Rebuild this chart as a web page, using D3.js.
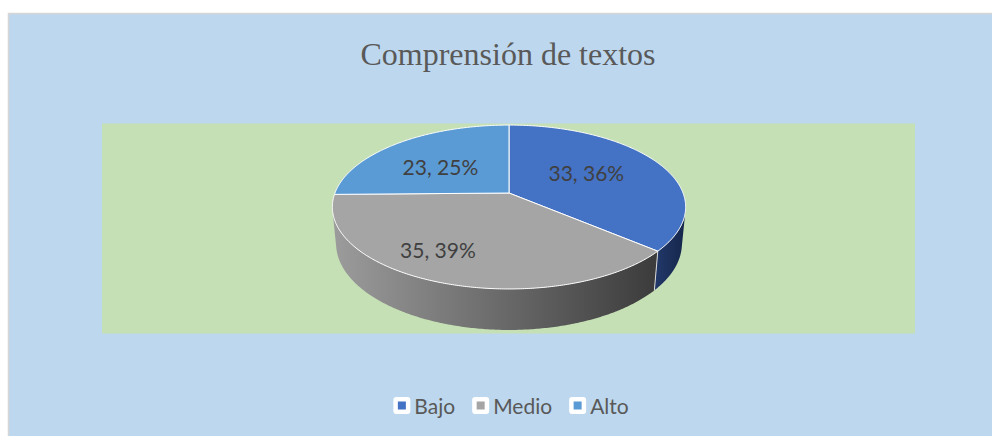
<!DOCTYPE html>
<html>
<head>
<meta charset="utf-8">
<script src="https://cdn.jsdelivr.net/npm/d3@7"></script>
<style>
  body { margin: 0; background: #fff; }
  svg { display: block; }
</style>
</head>
<body>
<div id="chart"></div>
<script>
const title = "Comprensión de textos";
const categories = ["Bajo", "Medio", "Alto"];
const values = [33, 35, 23];
const topColors = ["#4472C4", "#A5A5A5", "#5B9BD5"];
const sideColors = [["#22396a", "#15264a"], ["#9c9c9c", "#3b3b3b"], ["#6e9fd0", "#3f6f9f"]];

const width = 992, height = 436;

const svg = d3.select("#chart").append("svg")
  .attr("width", width)
  .attr("height", height);

// chart area + plot area
svg.append("rect")
  .attr("x", 8.5).attr("y", 13.5)
  .attr("width", width).attr("height", height)
  .attr("fill", "#BDD7EE")
  .attr("stroke", "#d6d6d6")
  .attr("stroke-width", 1.5);

svg.append("rect")
  .attr("x", 102).attr("y", 123.5)
  .attr("width", 813).attr("height", 210)
  .attr("fill", "#C5E0B4");

svg.append("text")
  .attr("x", 508).attr("y", 65)
  .attr("text-anchor", "middle")
  .attr("font-family", "Liberation Serif, Times New Roman, serif")
  .attr("font-size", 32)
  .attr("fill", "#595959")
  .text(title);

// 3d pie: a disk seen by a perspective camera tilted down
const cx = 509, cy = 193;
const tilt = 27.2 * Math.PI / 180;
const sinA = Math.sin(tilt), cosA = Math.cos(tilt);
const dist = 5.2, focal = 905, thick = 0.238;

const proj = (x, z, h = 0) => {
  const down = z * sinA + h * cosA;
  const depth = dist - z * cosA + h * sinA;
  return [cx + focal * x / depth, cy + focal * down / depth];
};
// angle measured clockwise from 12 o'clock, like d3.pie
const rim = (a, r = 1, h = 0) => proj(r * Math.sin(a), -r * Math.cos(a), h);

const pie = d3.pie().sort(null).value(d => d);
const arcs = pie(values);
const color = d3.scaleOrdinal().domain(categories).range(topColors);
const line = d3.line();

const sampleArc = (a0, a1, h) => {
  const n = Math.max(2, Math.ceil((a1 - a0) / 0.01));
  return d3.range(n + 1).map(i => rim(a0 + (a1 - a0) * i / n, 1, h));
};

// visible part of the side wall
const zc = 1 / (dist * cosA);
const vis0 = Math.acos(-zc), vis1 = 2 * Math.PI - vis0;

const defs = svg.append("defs");
const pieG = svg.append("g");

arcs.forEach((d, i) => {
  const a0 = Math.max(d.startAngle, vis0), a1 = Math.min(d.endAngle, vis1);
  if (a1 <= a0) return;
  const poly = sampleArc(a0, a1, 0).concat(sampleArc(a0, a1, thick).reverse());
  const xs = d3.extent(poly, p => p[0]);
  const gid = "side" + i;
  const grad = defs.append("linearGradient")
    .attr("id", gid)
    .attr("gradientUnits", "userSpaceOnUse")
    .attr("x1", xs[0]).attr("x2", xs[1])
    .attr("y1", 0).attr("y2", 0);
  grad.append("stop").attr("offset", 0).attr("stop-color", sideColors[i][0]);
  grad.append("stop").attr("offset", 1).attr("stop-color", sideColors[i][1]);
  pieG.append("path")
    .attr("d", line(poly) + "Z")
    .attr("fill", `url(#${gid})`);
});

// light seams on the wall where slices meet
arcs.forEach(d => {
  const a = d.startAngle;
  if (a > vis0 && a < vis1) {
    pieG.append("path")
      .attr("d", line([rim(a, 1, 0), rim(a, 1, thick)]))
      .attr("stroke", "#d9d9d9")
      .attr("stroke-width", 1);
  }
});

arcs.forEach((d, i) => {
  const poly = [proj(0, 0)].concat(sampleArc(d.startAngle, d.endAngle, 0));
  pieG.append("path")
    .attr("d", line(poly) + "Z")
    .attr("fill", color(categories[i]))
    .attr("stroke", "#ffffff")
    .attr("stroke-width", 1)
    .attr("stroke-linejoin", "round");
});

// percentages rounded so they add up to 100 (largest remainder), like Excel
const total = d3.sum(values);
const raw = values.map(v => v / total * 100);
const pct = raw.map(Math.floor);
let left = 100 - d3.sum(pct);
d3.range(raw.length)
  .sort((a, b) => (raw[b] - pct[b]) - (raw[a] - pct[a]))
  .forEach(k => { if (left > 0) { pct[k]++; left--; } });

// labels sit at the middle of each slice; Excel's best-fit pushes them a little
const labelNudge = [[1, -4], [-39, 16], [-10, 0]];
arcs.forEach((d, i) => {
  const p = rim((d.startAngle + d.endAngle) / 2, 0.5);
  pieG.append("text")
    .attr("x", p[0] + labelNudge[i][0]).attr("y", p[1] + labelNudge[i][1])
    .attr("text-anchor", "middle")
    .attr("dominant-baseline", "central")
    .attr("font-family", "Lato, Calibri, sans-serif")
    .attr("font-size", 21)
    .attr("fill", "#404040")
    .text(`${d.data}, ${pct[i]}%`);
});

// legend
const legend = svg.append("g");
let lx = 0;
categories.forEach((c, i) => {
  const item = legend.append("g").attr("transform", `translate(${lx},0)`);
  item.append("rect")
    .attr("x", 0).attr("y", -8.5)
    .attr("width", 17).attr("height", 17)
    .attr("rx", 3)
    .attr("fill", "#ffffff");
  item.append("rect")
    .attr("x", 4.5).attr("y", -4)
    .attr("width", 8).attr("height", 8)
    .attr("fill", color(c));
  const t = item.append("text")
    .attr("x", 21).attr("y", 0)
    .attr("dominant-baseline", "central")
    .attr("font-family", "Lato, Calibri, sans-serif")
    .attr("font-size", 21)
    .attr("fill", "#595959")
    .text(c);
  lx += 21 + t.node().getComputedTextLength() + 17;
});
const legendW = lx - 17;
legend.attr("transform", `translate(${511 - legendW / 2},405.5)`);
</script>
</body>
</html>
